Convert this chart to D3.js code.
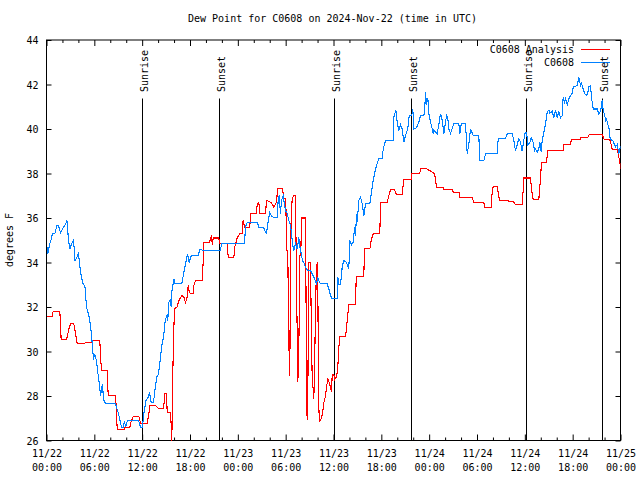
<!DOCTYPE html>
<html><head><meta charset="utf-8">
<script src="https://cdn.jsdelivr.net/npm/d3@7"></script>
<style>
body{margin:0;background:#fff}
text{font-family:"DejaVu Sans Mono",monospace;font-size:10px;fill:#000}
</style>
</head><body>
<svg id="chart" width="640" height="480"></svg>
<script>
// hours since 2024-11-22 00:00 UTC
const analysisHours = [0.09,0.72,0.84,1.67,1.76,1.84,2.51,2.80,3.01,3.42,3.64,3.85,4.68,4.89,5.73,5.86,6.69,6.77,6.90,7.61,7.74,8.66,8.78,8.87,9.70,9.82,10.45,10.62,10.88,11.58,11.70,11.88,12.63,12.83,12.96,13.67,13.89,14.09,14.71,14.80,15.05,15.14,15.55,15.64,15.72,15.84,15.97,16.06,16.39,16.60,17.02,17.22,17.44,17.65,17.77,17.90,18.06,18.40,18.48,18.69,19.53,19.66,19.73,20.48,20.57,20.70,20.79,20.91,21.61,21.74,22.67,22.79,23.50,23.62,23.92,24.25,24.55,24.67,24.84,25.50,25.59,26.34,26.43,26.63,26.76,27.47,27.60,28.19,28.51,28.85,28.94,29.02,29.57,29.69,29.77,30.02,30.11,30.27,30.36,30.45,30.52,30.61,30.70,30.82,31.02,31.23,31.32,31.45,31.52,31.61,31.70,31.77,31.90,31.99,32.49,32.58,32.62,32.70,32.78,32.90,33.12,33.20,33.33,33.45,33.53,33.62,33.74,33.87,33.95,34.03,34.12,34.21,34.25,34.46,34.62,34.79,35.00,35.12,35.29,35.46,35.63,35.75,35.84,36.04,36.16,36.38,36.54,36.67,36.79,37.51,37.72,37.92,38.76,38.85,39.80,39.89,40.56,40.73,40.98,41.81,41.90,42.74,42.94,43.15,43.65,43.87,44.62,44.82,45.75,45.82,46.83,46.92,47.67,47.96,48.67,48.80,48.92,49.76,49.84,50.89,51.01,51.80,51.85,53.40,53.61,54.86,54.94,55.78,55.86,56.03,56.54,56.74,56.87,58.54,58.83,59.67,59.80,59.87,60.71,60.84,61.05,61.75,61.97,62.09,62.72,62.88,64.81,64.89,65.73,65.82,66.90,67.07,67.90,68.08,69.71,69.84,70.00,70.66,70.84,70.96,71.59,71.71,71.92,72.0];
const analysisValues = [31.59,31.59,31.81,31.81,31.2,30.52,30.52,31.0,31.25,31.25,30.8,30.35,30.35,30.39,30.42,30.48,30.48,29.82,29.15,29.15,28.02,28.02,27.27,26.48,26.48,26.6,26.6,26.85,27.09,27.09,26.9,26.75,26.75,27.2,27.57,27.57,27.5,27.42,27.42,28.13,28.13,27.27,27.27,26.7,26.0,29.0,31.02,31.92,32.0,32.29,32.52,32.45,32.2,32.45,32.97,32.7,32.6,32.6,32.95,33.19,33.19,34.09,34.91,34.91,35.1,35.2,34.8,35.1,35.1,34.84,34.84,34.24,34.24,34.7,35.1,35.29,35.29,35.92,35.59,35.59,36.19,36.19,36.64,36.7,36.19,36.19,36.79,36.7,36.5,36.7,37.09,37.31,37.31,37.1,36.9,36.85,34.54,34.54,30.8,29.74,28.92,34.54,36.19,36.86,37.01,37.01,34.3,30.72,28.62,29.3,31.5,34.3,34.4,36.0,36.0,31.0,28.0,26.9,28.1,34.0,34.0,31.6,28.7,28.3,27.87,29.1,31.8,33.9,33.95,33.2,28.1,26.97,26.82,27.0,27.2,27.7,28.0,28.4,28.77,28.6,28.4,28.17,28.98,28.98,28.75,28.85,29.3,30.19,30.67,30.67,31.39,32.1,32.1,33.37,33.37,34.61,34.61,35.0,35.29,35.29,36.71,36.71,37.0,37.28,37.28,37.07,37.07,37.75,37.75,38.01,38.01,38.21,38.21,38.15,38.0,37.7,37.39,37.39,37.3,37.3,37.16,37.16,36.94,36.9,36.71,36.71,36.49,36.49,37.0,37.42,37.42,36.95,36.79,36.75,36.6,36.6,37.3,37.8,37.8,37.3,36.82,36.82,37.8,38.51,38.51,39.03,39.03,39.3,39.3,39.51,39.51,39.63,39.63,39.74,39.74,39.63,39.51,39.51,39.3,39.08,39.08,38.9,38.5,38.21];

const obsHours = [0.09,0.16,0.38,0.56,0.75,1.13,1.25,1.51,1.76,2.01,2.26,2.51,2.55,2.63,2.76,2.95,3.14,3.39,3.58,3.76,4.01,4.26,4.52,4.83,5.02,5.39,5.64,5.90,6.02,6.27,6.40,6.65,6.77,7.02,7.15,7.40,8.66,9.03,9.41,9.66,9.78,9.91,10.16,11.54,11.79,12.04,12.21,12.29,12.46,12.71,12.92,13.13,13.42,13.64,13.84,14.05,14.26,14.46,14.68,14.89,15.09,15.22,15.30,15.52,15.64,15.72,15.97,16.14,16.97,17.19,17.40,17.60,17.72,17.90,18.15,19.07,19.19,19.48,19.69,21.79,21.99,24.84,24.96,25.18,26.43,26.63,27.26,27.47,27.60,27.76,27.89,28.01,28.19,28.44,28.94,29.06,29.19,29.35,29.48,29.69,29.86,29.98,30.19,30.39,30.61,30.73,30.86,31.02,31.23,31.45,31.65,31.78,31.95,32.11,32.28,32.49,32.78,33.12,33.33,33.62,33.87,34.03,34.21,34.37,35.21,35.41,35.63,35.84,36.47,36.54,36.67,36.88,37.09,37.29,37.63,37.92,38.05,38.26,38.47,38.64,38.76,38.89,38.97,39.18,39.39,39.60,39.80,40.02,40.56,40.73,40.98,41.27,41.68,42.11,42.24,42.52,43.49,43.57,43.82,43.99,44.19,44.41,44.62,44.82,45.03,45.32,45.50,45.82,45.95,46.07,46.41,46.70,46.92,47.25,47.42,47.54,47.67,47.83,47.96,48.17,48.38,48.51,48.58,49.01,49.21,49.42,49.64,49.84,50.05,50.18,50.34,50.47,50.68,51.09,51.72,51.85,52.02,52.56,52.68,52.77,52.97,53.19,53.53,54.23,54.35,54.86,55.07,56.54,56.66,57.58,57.79,58.42,58.62,58.83,59.04,59.25,59.46,59.67,59.87,60.05,60.21,60.38,60.63,60.80,61.05,61.21,61.34,61.55,61.75,61.88,62.06,62.18,62.38,62.59,62.81,63.01,63.13,63.43,63.64,63.85,64.06,64.26,64.48,64.69,64.81,64.98,65.10,65.32,65.52,65.73,65.94,66.07,66.57,66.77,66.99,67.11,67.32,67.49,67.74,67.90,68.03,68.24,68.37,68.45,68.58,69.08,69.28,69.50,69.71,69.84,70.00,70.12,70.25,70.41,70.54,70.66,70.84,71.09,71.25,71.38,71.59,71.79,71.92,72.0];
const obsValues = [34.7,34.4,34.8,35.0,35.3,35.33,35.66,35.66,35.33,35.5,35.66,35.8,35.92,35.6,35.0,34.6,34.84,35.0,34.1,34.2,34.4,33.6,33.1,32.9,32.0,31.5,30.8,29.6,29.9,29.6,29.15,28.5,28.0,28.55,27.85,27.65,27.65,27.2,26.6,26.6,26.89,26.6,26.9,26.9,26.6,26.6,27.23,27.35,27.8,27.9,28.17,27.72,27.7,28.4,28.85,29.0,29.6,30.27,30.64,31.39,31.6,31.39,32.2,32.3,32.0,32.67,33.27,33.04,33.04,33.49,33.87,34.24,34.35,34.0,34.31,34.31,34.57,34.57,34.54,34.54,34.84,34.87,35.59,35.81,35.81,35.59,35.55,35.36,35.3,35.74,36.04,36.26,36.1,36.04,36.04,36.79,37.01,36.19,36.8,37.0,36.6,36.34,36.2,35.9,35.66,35.29,34.84,34.54,34.84,34.6,35.14,34.7,34.4,34.09,34.0,33.79,33.64,33.64,33.49,33.27,33.04,33.3,33.15,33.04,33.04,32.82,32.52,32.37,32.37,33.34,33.0,33.0,33.79,34.09,34.0,33.7,34.99,34.8,34.9,35.59,35.2,36.19,35.8,36.79,36.94,36.64,36.1,36.64,36.64,37.09,37.69,38.21,38.66,38.66,39.11,39.48,39.48,40.53,40.86,40.3,39.93,40.2,40.0,39.41,39.7,40.0,40.61,40.61,40.9,40.0,40.05,40.3,40.6,40.6,40.68,41.65,41.1,41.4,40.68,40.3,40.0,39.79,39.95,39.79,40.2,40.68,40.4,39.79,40.3,40.6,40.5,40.0,39.79,40.23,40.23,39.79,40.23,40.23,39.49,38.89,39.3,40.0,39.7,39.7,38.58,38.58,38.89,38.89,39.57,39.57,39.79,39.79,39.5,39.0,39.3,39.57,39.4,39.0,39.5,39.85,39.85,39.3,39.4,39.6,39.4,39.03,39.1,38.96,39.1,39.4,38.96,39.5,39.85,40.23,40.76,40.85,40.7,40.8,40.5,40.85,40.5,40.8,40.5,40.6,41.43,41.2,41.35,41.1,41.35,41.5,41.6,41.88,41.95,42.33,41.95,42.05,41.8,41.6,41.5,41.65,41.9,41.95,41.4,41.2,40.9,40.9,40.68,40.8,41.3,40.8,40.68,40.38,40.45,40.2,40.1,39.64,39.5,39.45,39.3,39.2,39.3,38.9,39.1,39.25];

const xTickHours = [0,6,12,18,24,30,36,42,48,54,60,66,72];
const xTickDates = ["11/22","11/22","11/22","11/22","11/23","11/23","11/23","11/23","11/24","11/24","11/24","11/24","11/25"];
const xTickTimes = ["00:00","06:00","12:00","18:00","00:00","06:00","12:00","18:00","00:00","06:00","12:00","18:00","00:00"];
const yTicks = [26,28,30,32,34,36,38,40,42,44];
const eventHours = [12.08,21.74,36.16,45.82,60.21,69.79];
const eventLabels = ["Sunrise","Sunset","Sunrise","Sunset","Sunrise","Sunset"];
const seriesNames = ["C0608 Analysis","C0608"];
const seriesColors = ["#ff0000","#0080ff"];

const L=46, R=620, T=39.5, B=440;
const svg = d3.select("#chart");
const g = svg.append("g").attr("transform","translate(0.5,0.5)");
const x = d3.scaleLinear().domain([0,72]).range([L,R]);
const y = d3.scaleLinear().domain([26,44]).range([B,T]);

svg.append("text").attr("x",332.5).attr("y",22).attr("text-anchor","middle")
  .text("Dew Point for C0608 on 2024-Nov-22 (time in UTC)");
svg.append("text").attr("transform","translate(13,240) rotate(-90)").attr("text-anchor","middle").text("degrees F");

const minorHours = d3.range(0,73,2).filter(h=>h%6!==0);
const axB = d3.axisBottom(x).tickValues(xTickHours).tickSizeInner(-6).tickSizeOuter(0).tickPadding(8).tickFormat(()=>"");
const gb = g.append("g").attr("transform",`translate(0,${B})`).call(axB);
gb.selectAll(".tick").append("text").attr("fill","#000").attr("text-anchor","middle")
  .each(function(d,i){
    const t=d3.select(this);
    t.append("tspan").attr("x",0).attr("y",16).text(xTickDates[i]);
    t.append("tspan").attr("x",0).attr("y",30).text(xTickTimes[i]);
  });
g.append("g").attr("transform",`translate(0,${B})`).call(d3.axisBottom(x).tickValues(minorHours).tickSizeInner(-3).tickSizeOuter(0).tickFormat(()=>""));
g.append("g").attr("transform",`translate(0,${T})`).call(d3.axisTop(x).tickValues(xTickHours).tickSizeInner(-6).tickSizeOuter(0).tickFormat(()=>""));
g.append("g").attr("transform",`translate(0,${T})`).call(d3.axisTop(x).tickValues(minorHours).tickSizeInner(-3).tickSizeOuter(0).tickFormat(()=>""));
const gl = g.append("g").attr("transform",`translate(${L},0)`).call(d3.axisLeft(y).tickValues(yTicks).tickSizeInner(-5).tickSizeOuter(0).tickPadding(8).tickFormat(d3.format("d")));
gl.selectAll(".tick text").attr("fill","#000").attr("dy","0.35em").attr("x",-8);
g.append("g").attr("transform",`translate(${R},0)`).call(d3.axisRight(y).tickValues(yTicks).tickSizeInner(-5).tickSizeOuter(0).tickFormat(()=>""));
g.selectAll(".domain").remove();
g.selectAll(".tick line").attr("stroke","#000");
svg.selectAll("text").style("font-family",'"DejaVu Sans Mono",monospace').style("font-size","10px");

g.append("rect").attr("x",L).attr("y",T).attr("width",R-L).attr("height",B-T).attr("fill","none").attr("stroke","#000");

eventHours.forEach((h,i)=>{
  g.append("line").attr("x1",Math.round(x(h))).attr("x2",Math.round(x(h))).attr("y1",98).attr("y2",B).attr("stroke","#000");
  svg.append("text").attr("transform",`translate(${Math.round(x(h))+5.5},92) rotate(-90)`).attr("text-anchor","start").text(eventLabels[i]);
});

g.append("clipPath").attr("id","clip").append("rect").attr("x",L).attr("y",T).attr("width",R-L).attr("height",B-T+1);
const line = d3.line().x(d=>x(d[0])).y(d=>y(d[1]));
const series = [d3.zip(analysisHours,analysisValues), d3.zip(obsHours,obsValues)];
series.forEach((s,i)=>{
  g.append("path").datum(s).attr("d",line).attr("fill","none").attr("stroke",seriesColors[i])
    .attr("stroke-width",1.1).attr("shape-rendering","crispEdges").attr("clip-path","url(#clip)");
});

seriesNames.forEach((n,i)=>{
  const ly = 49 + i*13;
  svg.append("text").attr("x",574).attr("y",ly).attr("dy","0.35em").attr("text-anchor","end").text(n);
  g.append("line").attr("x1",580).attr("x2",609).attr("y1",ly).attr("y2",ly).attr("stroke",seriesColors[i]).attr("shape-rendering","crispEdges");
});
</script>
</body></html>
